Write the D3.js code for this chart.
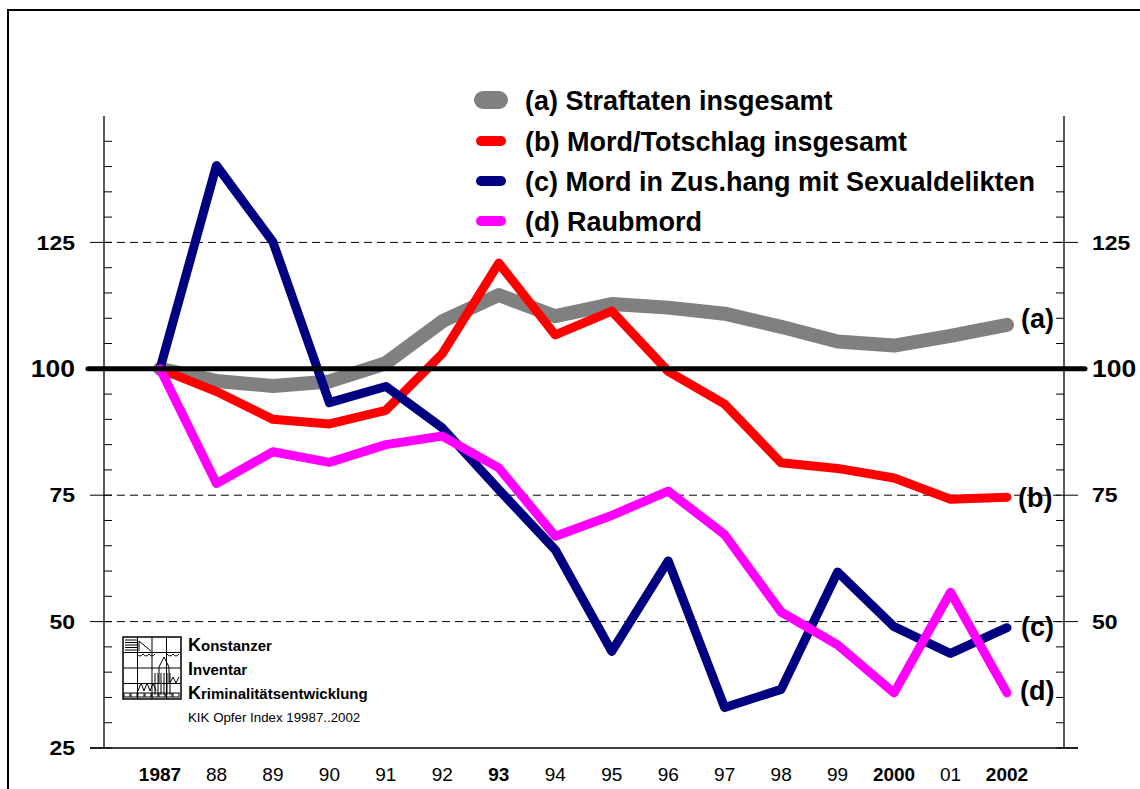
<!DOCTYPE html>
<html><head><meta charset="utf-8">
<script src="https://cdn.jsdelivr.net/npm/d3@7"></script>
<style>
html,body{margin:0;padding:0;background:#fff;}
svg{display:block;}
</style></head>
<body>
<script>
const years = [1987,1988,1989,1990,1991,1992,1993,1994,1995,1996,1997,1998,1999,2000,2001,2002];
const yearLabels = ["1987","88","89","90","91","92","93","94","95","96","97","98","99","2000","01","2002"];
const boldYears = ["1987","93","2000","2002"];
const straftaten = [100,97.6,96.6,97.5,101.1,109.4,114.6,110.4,112.8,112.1,110.9,108.3,105.4,104.6,106.5,108.7];
const mordTotschlag = [100,95.5,90.0,89.1,91.8,103.0,120.9,106.7,111.4,99.5,93.0,81.4,80.3,78.4,74.2,74.6];
const mordSexual = [100,140.2,125.1,93.3,96.5,88.3,76.1,64.2,44.1,62.0,33.0,36.6,59.8,49.0,43.7,48.8];
const raubmord = [100,77.3,83.6,81.5,85.0,86.7,80.4,66.9,71.0,75.8,67.2,51.9,45.4,35.9,55.8,35.9];
const seriesNames = ["(a) Straftaten insgesamt","(b) Mord/Totschlag insgesamt","(c) Mord in Zus.hang mit Sexualdelikten","(d) Raubmord"];
const seriesTags = ["(a)","(b)","(c)","(d)"];
const seriesColors = ["#808080","#ff0000","#000080","#ff00ff"];
const seriesWidths = [14,9,9,9];
const legendWidths = [18,10,10,10];
const majorTicks = [25,50,75,100,125];
const minorTicks = [30,35,40,45,55,60,65,70,80,85,90,95,105,110,115,120,130,135,140,145];
const seriesData = [straftaten, mordTotschlag, mordSexual, raubmord];

const W = 1140, H = 789;
const svg = d3.select("body").append("svg").attr("width", W).attr("height", H);

const x = d3.scaleLinear().domain([1987, 2002]).range([160, 1007]);
const y = d3.scaleLinear().domain([25, 150]).range([748, 116]);
const axL = 104, axR = 1064;
const bold = "'Liberation Sans', Arial, Helvetica, sans-serif";
const narrow = "'Liberation Sans Narrow', 'Arial Narrow', 'Liberation Sans', Arial, sans-serif";

// outer frame
svg.append("path").attr("d", `M8,${H+5} L8,10 L${W+5},10`).attr("fill","none").attr("stroke","#000").attr("stroke-width",2);

// dashed gridlines
svg.selectAll("line.grid").data([50,75,125]).enter().append("line")
  .attr("x1", axL).attr("x2", axR).attr("y1", d=>y(d)).attr("y2", d=>y(d))
  .attr("stroke","#000").attr("stroke-width",1).attr("stroke-dasharray","8,5");

// bottom line at 25
svg.append("line").attr("x1", 90).attr("x2", 1078).attr("y1", y(25)).attr("y2", y(25))
  .attr("stroke","#000").attr("stroke-width",1.5);

// axes verticals
[axL, axR].forEach(ax => {
  svg.append("line").attr("x1", ax).attr("x2", ax).attr("y1", y(150)).attr("y2", y(25))
    .attr("stroke","#000").attr("stroke-width",1.3);
});

// minor ticks
svg.selectAll("line.minL").data(minorTicks).enter().append("line")
  .attr("x1", axL).attr("x2", axL+8).attr("y1", d=>y(d)).attr("y2", d=>y(d))
  .attr("stroke","#000").attr("stroke-width",1);
svg.selectAll("line.minR").data(minorTicks).enter().append("line")
  .attr("x1", axR-8).attr("x2", axR).attr("y1", d=>y(d)).attr("y2", d=>y(d))
  .attr("stroke","#000").attr("stroke-width",1);
// major ticks
svg.selectAll("line.majL").data(majorTicks).enter().append("line")
  .attr("x1", axL-14).attr("x2", axL+8).attr("y1", d=>y(d)).attr("y2", d=>y(d))
  .attr("stroke","#000").attr("stroke-width",1);
svg.selectAll("line.majR").data(majorTicks).enter().append("line")
  .attr("x1", axR-8).attr("x2", axR+14).attr("y1", d=>y(d)).attr("y2", d=>y(d))
  .attr("stroke","#000").attr("stroke-width",1);

// y labels (slightly widened glyphs as in reference)
function widen(sel, f) {
  sel.each(function() {
    const w = this.getComputedTextLength();
    d3.select(this).attr("textLength", w * f).attr("lengthAdjust", "spacingAndGlyphs");
  });
}
majorTicks.forEach(v => {
  const big = v === 100;
  const l = svg.append("text").attr("x", 75).attr("y", y(v)).attr("dy","0.36em")
    .attr("text-anchor","end").attr("font-family", bold).attr("font-weight","bold")
    .attr("font-size", big ? 23 : 20).text(v);
  widen(l, 1.15);
  if (v !== 25) {
    const r = svg.append("text").attr("x", 1092).attr("y", y(v)).attr("dy","0.36em")
      .attr("text-anchor","start").attr("font-family", bold).attr("font-weight","bold")
      .attr("font-size", big ? 23 : 20).text(v);
    widen(r, 1.15);
  }
});

// x labels
years.forEach((yr, i) => {
  const lab = yearLabels[i];
  svg.append("text").attr("x", x(yr)).attr("y", 781).attr("text-anchor","middle")
    .attr("font-family", narrow).attr("font-weight", boldYears.includes(lab) ? "bold" : "normal")
    .attr("font-size", 19).text(lab);
});

// series lines
const line = d3.line().x((d,i)=>x(years[i])).y(d=>y(d));
seriesData.forEach((s, k) => {
  svg.append("path").attr("d", line(s)).attr("fill","none")
    .attr("stroke", seriesColors[k]).attr("stroke-width", seriesWidths[k])
    .attr("stroke-linecap","round").attr("stroke-linejoin","round");
});

// 100 reference line
svg.append("line").attr("x1", 88).attr("x2", 1085).attr("y1", y(100)).attr("y2", y(100))
  .attr("stroke","#000").attr("stroke-width",5).attr("stroke-linecap","round");

// end labels
const tagPos = [[1021, 327.5],[1018, 506.5],[1021, 635.5],[1020, 699.5]];
seriesTags.forEach((t,k) => {
  svg.append("text").attr("x", tagPos[k][0]).attr("y", tagPos[k][1])
    .attr("font-family", bold).attr("font-weight","bold").attr("font-size",27).text(t);
});

// legend
const legY = [100, 141, 181, 221];
seriesNames.forEach((n,k) => {
  const half = k === 0 ? 8 : 10;
  svg.append("line").attr("x1", 491-half).attr("x2", 491+half).attr("y1", legY[k]).attr("y2", legY[k])
    .attr("stroke", seriesColors[k]).attr("stroke-width", legendWidths[k]).attr("stroke-linecap","round");
  svg.append("text").attr("x", 525).attr("y", legY[k]+9.5)
    .attr("font-family", bold).attr("font-weight","bold").attr("font-size",27).text(n);
});

// logo
const lg = svg.append("g").attr("fill","none").attr("stroke","#000").attr("stroke-width",1);
const lx0 = 123, ly0 = 637, lw = 58, lh = 62;
lg.append("rect").attr("x", lx0).attr("y", ly0).attr("width", lw).attr("height", lh).attr("stroke-width",1.5);
[0.25,0.5,0.75].forEach(f => {
  lg.append("line").attr("x1", lx0+lw*f).attr("x2", lx0+lw*f).attr("y1", ly0).attr("y2", ly0+lh);
  lg.append("line").attr("x1", lx0).attr("x2", lx0+lw).attr("y1", ly0+lh*f).attr("y2", ly0+lh*f);
});
for (let i=0;i<5;i++) lg.append("line").attr("x1", lx0+2).attr("x2", lx0+14).attr("y1", ly0+3+i*2.5).attr("y2", ly0+3+i*2.5);
lg.append("path").attr("d", `M${lx0+16},${ly0+4} L${lx0+28},${ly0+14} M${lx0+16},${ly0+4} L${lx0+16},${ly0+14}`);
lg.append("path").attr("d", `M${lx0+14},${ly0+17} q3,4 6,0 q3,4 6,0 q3,4 6,0 M${lx0+44},${ly0+17} q3,4 6,0 q3,4 6,0`);
lg.append("path").attr("d", `M${lx0+36},${ly0+46} L${lx0+36},${ly0+30} L${lx0+41},${ly0+20} L${lx0+46},${ly0+30} L${lx0+46},${ly0+46}`);
for (let i=0;i<6;i++) lg.append("line").attr("x1", lx0+32+i*3).attr("x2", lx0+32+i*3).attr("y1", ly0+36).attr("y2", ly0+58);
lg.append("path").attr("d", `M${lx0+15},${ly0+54} l3,-8 l3,8 l3,-8 l3,8 l3,-8 l3,8 M${lx0+47},${ly0+46} l3,-6 l3,6 l3,-6`);
for (let i=0;i<8;i++) lg.append("rect").attr("x", lx0+1+i*7).attr("y", ly0+lh-6).attr("width",6).attr("height",4);

const logoLines = [["K","onstanzer",651],["I","nventar",675],["K","riminalitätsentwicklung",699]];
logoLines.forEach(([a,b,yy]) => {
  const t = svg.append("text").attr("x",188).attr("y",yy).attr("font-family",bold).attr("font-weight","bold");
  t.append("tspan").attr("font-size",18).text(a);
  t.append("tspan").attr("font-size",15).text(b);
});
svg.append("text").attr("x",188).attr("y",722).attr("font-family",bold).attr("font-size",13.3).text("KIK Opfer Index 19987..2002");
</script>
</body></html>
